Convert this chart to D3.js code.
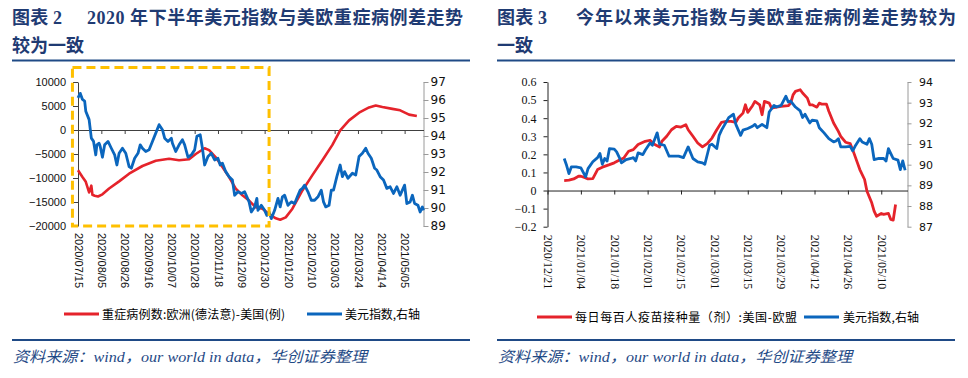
<!DOCTYPE html>
<html><head><meta charset="utf-8">
<script src="https://cdn.jsdelivr.net/npm/d3@7"></script>
<style>body{margin:0;background:#fff}svg{display:block}</style>
</head><body>
<svg id="c" width="968" height="378"></svg>
<script>
// ---------- Chart 1 data ----------
const ticks1 = ['2020/07/15','2020/08/05','2020/08/26','2020/09/16','2020/10/07','2020/10/28','2020/11/18','2020/12/09','2020/12/30','2021/01/20','2021/02/10','2021/03/03','2021/03/24','2021/04/14','2021/05/05'];
const leftTicks1 = [-20000,-15000,-10000,-5000,0,5000,10000];
const rightTicks1 = [89,90,91,92,93,94,95,96,97];
const severeDates = ['2020-07-15','2020-07-19','2020-07-22','2020-07-25','2020-07-27','2020-07-28','2020-07-30','2020-08-02','2020-08-06','2020-08-12','2020-08-21','2020-08-30','2020-09-11','2020-09-23','2020-10-05','2020-10-14','2020-10-23','2020-10-29','2020-11-06','2020-11-10','2020-11-16','2020-11-22','2020-11-28','2020-12-04','2020-12-10','2020-12-16','2020-12-22','2020-12-28','2021-01-03','2021-01-09','2021-01-13','2021-01-18','2021-01-24','2021-02-02','2021-02-11','2021-02-20','2021-03-01','2021-03-08','2021-03-16','2021-03-25','2021-04-03','2021-04-09','2021-04-15','2021-04-24','2021-05-01','2021-05-09','2021-05-16'];
const severeDiff = [-8400,-9800,-10800,-13000,-11600,-13500,-13700,-13850,-13400,-12200,-10700,-9100,-7500,-6400,-6000,-6300,-6100,-5000,-3800,-4200,-5700,-7700,-9800,-12200,-13600,-14700,-16100,-16400,-17500,-18400,-18700,-18200,-16400,-12600,-9400,-6300,-3100,-100,2000,3600,4700,5100,4800,4400,4100,3200,2900];
const dxyDates1 = ['2020-07-15','2020-07-17','2020-07-19','2020-07-21','2020-07-22','2020-07-25','2020-07-27','2020-07-29','2020-07-31','2020-08-01','2020-08-03','2020-08-04','2020-08-06','2020-08-08','2020-08-11','2020-08-14','2020-08-17','2020-08-19','2020-08-21','2020-08-24','2020-08-27','2020-08-30','2020-09-01','2020-09-04','2020-09-07','2020-09-09','2020-09-11','2020-09-14','2020-09-17','2020-09-20','2020-09-23','2020-09-26','2020-09-29','2020-10-01','2020-10-04','2020-10-07','2020-10-08','2020-10-11','2020-10-14','2020-10-17','2020-10-19','2020-10-22','2020-10-25','2020-10-28','2020-10-30','2020-11-02','2020-11-04','2020-11-06','2020-11-09','2020-11-12','2020-11-15','2020-11-18','2020-11-20','2020-11-22','2020-11-25','2020-11-28','2020-12-01','2020-12-03','2020-12-06','2020-12-09','2020-12-12','2020-12-14','2020-12-16','2020-12-18','2020-12-21','2020-12-23','2020-12-24','2020-12-27','2020-12-30','2021-01-01','2021-01-03','2021-01-05','2021-01-08','2021-01-11','2021-01-13','2021-01-15','2021-01-17','2021-01-20','2021-01-23','2021-01-26','2021-01-29','2021-01-31','2021-02-02','2021-02-04','2021-02-07','2021-02-10','2021-02-13','2021-02-16','2021-02-19','2021-02-21','2021-02-23','2021-02-26','2021-02-28','2021-03-02','2021-03-05','2021-03-08','2021-03-10','2021-03-12','2021-03-15','2021-03-19','2021-03-22','2021-03-25','2021-03-28','2021-03-31','2021-04-02','2021-04-05','2021-04-08','2021-04-10','2021-04-13','2021-04-16','2021-04-19','2021-04-22','2021-04-25','2021-04-28','2021-05-01','2021-05-03','2021-05-05','2021-05-07','2021-05-10','2021-05-12','2021-05-14','2021-05-17','2021-05-19','2021-05-21','2021-05-22'];
const dxyValues1 = [96.12,96.37,96.03,95.94,95.38,94.91,93.88,93.70,92.95,93.51,93.60,93.42,92.82,93.51,93.70,93.32,92.95,92.39,93.04,93.32,93.04,92.30,92.21,92.76,93.04,93.51,93.32,93.14,93.23,93.70,94.16,94.63,94.35,93.88,93.70,93.88,93.60,93.14,93.51,93.79,93.51,92.82,92.95,93.23,93.98,94.07,93.32,92.39,92.86,93.04,92.67,92.76,92.39,92.49,92.02,91.74,91.55,90.71,90.90,90.81,90.90,90.62,90.34,89.78,90.06,90.53,89.87,90.15,89.87,89.59,89.78,89.41,89.87,90.53,90.06,90.62,90.71,90.15,90.34,90.25,90.71,90.99,91.09,91.27,90.90,90.43,90.43,90.62,90.99,90.34,90.06,90.15,90.99,90.99,91.74,92.39,91.74,92.02,91.65,91.93,91.83,92.86,93.04,93.32,93.04,92.76,92.21,92.11,91.74,91.55,91.09,91.18,90.81,91.18,90.71,90.99,91.27,90.25,90.34,90.71,90.25,90.15,89.78,90.06,89.87];

// ---------- Chart 2 data ----------
const ticks2 = ['2020/12/21','2021/01/04','2021/01/18','2021/02/01','2021/02/15','2021/03/01','2021/03/15','2021/03/29','2021/04/12','2021/04/26','2021/05/10'];
const leftTicks2 = [-0.2,-0.1,0,0.1,0.2,0.3,0.4,0.5,0.6];
const rightTicks2 = [87,88,89,90,91,92,93,94];
const vaxDates = ['2020-12-28','2020-12-30','2021-01-01','2021-01-03','2021-01-04','2021-01-06','2021-01-07','2021-01-09','2021-01-11','2021-01-13','2021-01-16','2021-01-18','2021-01-20','2021-01-22','2021-01-24','2021-01-26','2021-01-28','2021-01-31','2021-02-02','2021-02-04','2021-02-06','2021-02-07','2021-02-09','2021-02-11','2021-02-13','2021-02-15','2021-02-17','2021-02-18','2021-02-20','2021-02-22','2021-02-24','2021-02-26','2021-02-28','2021-03-02','2021-03-04','2021-03-06','2021-03-08','2021-03-10','2021-03-11','2021-03-13','2021-03-14','2021-03-15','2021-03-17','2021-03-18','2021-03-20','2021-03-21','2021-03-22','2021-03-24','2021-03-25','2021-03-27','2021-03-29','2021-04-01','2021-04-02','2021-04-03','2021-04-04','2021-04-06','2021-04-07','2021-04-09','2021-04-10','2021-04-11','2021-04-13','2021-04-14','2021-04-15','2021-04-17','2021-04-18','2021-04-20','2021-04-22','2021-04-23','2021-04-25','2021-04-27','2021-04-28','2021-04-30','2021-05-01','2021-05-03','2021-05-04','2021-05-06','2021-05-07','2021-05-08','2021-05-10','2021-05-11','2021-05-13','2021-05-14','2021-05-15','2021-05-16'];
const vaxDiff = [0.055,0.057,0.064,0.079,0.079,0.070,0.064,0.066,0.116,0.129,0.143,0.153,0.167,0.180,0.217,0.226,0.254,0.272,0.278,0.254,0.241,0.272,0.300,0.336,0.355,0.351,0.364,0.336,0.300,0.263,0.241,0.259,0.290,0.336,0.377,0.382,0.382,0.377,0.401,0.428,0.474,0.432,0.469,0.493,0.474,0.419,0.493,0.483,0.456,0.461,0.465,0.469,0.483,0.529,0.548,0.557,0.539,0.511,0.474,0.474,0.461,0.483,0.478,0.478,0.438,0.373,0.327,0.300,0.267,0.259,0.226,0.153,0.116,0.061,-0.004,-0.068,-0.114,-0.142,-0.127,-0.132,-0.127,-0.160,-0.164,-0.077];
const dxyDates2 = ['2020-12-28','2020-12-29','2020-12-30','2020-12-31','2021-01-02','2021-01-04','2021-01-06','2021-01-07','2021-01-09','2021-01-11','2021-01-12','2021-01-13','2021-01-14','2021-01-15','2021-01-16','2021-01-18','2021-01-19','2021-01-20','2021-01-21','2021-01-23','2021-01-25','2021-01-26','2021-01-27','2021-01-28','2021-01-30','2021-01-31','2021-02-02','2021-02-03','2021-02-05','2021-02-06','2021-02-08','2021-02-10','2021-02-12','2021-02-14','2021-02-16','2021-02-18','2021-02-20','2021-02-22','2021-02-24','2021-02-25','2021-02-27','2021-02-28','2021-03-02','2021-03-03','2021-03-04','2021-03-06','2021-03-07','2021-03-09','2021-03-10','2021-03-12','2021-03-13','2021-03-15','2021-03-17','2021-03-18','2021-03-19','2021-03-21','2021-03-23','2021-03-24','2021-03-26','2021-03-27','2021-03-29','2021-03-31','2021-04-01','2021-04-02','2021-04-04','2021-04-06','2021-04-07','2021-04-08','2021-04-10','2021-04-11','2021-04-13','2021-04-14','2021-04-16','2021-04-18','2021-04-20','2021-04-21','2021-04-22','2021-04-23','2021-04-25','2021-04-27','2021-04-28','2021-04-29','2021-05-01','2021-05-02','2021-05-04','2021-05-05','2021-05-06','2021-05-07','2021-05-09','2021-05-11','2021-05-12','2021-05-13','2021-05-14','2021-05-15','2021-05-17','2021-05-18','2021-05-19','2021-05-20'];
const dxyValues2 = [90.30,89.97,89.57,89.89,89.89,89.85,89.41,89.81,90.14,90.34,90.54,90.02,90.30,90.18,90.78,90.75,90.62,90.38,90.09,90.25,90.30,90.34,90.18,90.57,90.49,90.70,91.05,90.94,91.54,90.99,90.94,90.41,90.41,90.41,90.34,90.86,90.30,90.14,90.09,90.02,90.94,90.99,90.78,91.42,91.67,92.07,92.28,92.44,91.95,91.42,91.67,91.75,91.86,91.95,91.79,91.95,91.79,92.55,92.87,92.79,92.87,93.31,93.03,93.08,92.79,92.60,92.28,92.44,92.02,92.15,92.12,91.79,91.54,91.26,91.10,91.15,91.26,90.86,90.86,90.89,90.67,90.89,91.26,91.10,90.99,91.26,90.99,90.25,90.30,90.30,90.18,90.78,90.54,90.30,90.22,89.76,90.18,89.73];

// ---------- Text ----------
const title1a = '图表 2', title1b = '2020 年下半年美元指数与美欧重症病例差走势', title1c = '较为一致';
const title2a = '图表 3', title2b = '今年以来美元指数与美欧重症病例差走势较为', title2c = '一致';
const legend1 = ['重症病例数:欧洲(德法意)-美国(例)', '美元指数,右轴'];
const legend2 = ['每日每百人疫苗接种量（剂）:美国-欧盟', '美元指数,右轴'];
const sourceText = '资料来源：wind，our world in data，华创证券整理';
const box1 = {start:'2020-07-10', end:'2021-01-03', top:13000, bottom:-20000};

// ---------- Drawing ----------
const RED = '#E5232B', BLUE = '#0B66BD', NAVY = '#1F3B73', LINE_NAVY = '#1F4A86';
const parse = d3.timeParse('%Y-%m-%d');
const parseTick = d3.timeParse('%Y/%m/%d');
const zip = (ds, vs) => ds.map((d,i) => ({date: parse(d), value: vs[i]}));
const svg = d3.select('#c');

function header(x0, a, b, bx, bLen, c, dividerEnd) {
  const t = svg.append('text').attr('y', 24).attr('fill', NAVY)
    .style('font-family', '"Liberation Serif","Noto Sans CJK SC",serif').style('font-weight', 'bold').style('font-size', '18px');
  t.append('tspan').attr('x', x0).attr('textLength', 50).attr('lengthAdjust', 'spacing').text(a);
  t.append('tspan').attr('x', bx).attr('textLength', bLen).attr('lengthAdjust', 'spacing').text(b);
  svg.append('text').attr('x', x0).attr('y', 52).attr('fill', NAVY)
    .style('font-family', '"Liberation Serif","Noto Sans CJK SC",serif').style('font-weight', 'bold').style('font-size', '18px').text(c);
  svg.append('line').attr('x1', x0).attr('x2', dividerEnd).attr('y1', 60.5).attr('y2', 60.5).attr('stroke', LINE_NAVY).attr('stroke-width', 2);
  svg.append('line').attr('x1', x0).attr('x2', dividerEnd).attr('y1', 340).attr('y2', 340).attr('stroke', LINE_NAVY).attr('stroke-width', 2);
  svg.append('text').attr('x', x0 + 1).attr('y', 362).attr('fill', LINE_NAVY)
    .attr('textLength', 354).attr('lengthAdjust', 'spacingAndGlyphs')
    .style('font-family', '"Liberation Serif","Noto Sans CJK SC",serif').style('font-style', 'italic').style('font-size', '15px').text(sourceText);
}
header(12, title1a, title1b, 87, 376, title1c, 470);
header(497, title2a, title2b, 576, 380, title2c, 955);

function styleAxis(g, color, font, size) {
  g.select('.domain').attr('stroke', color).attr('stroke-width', 1);
  g.selectAll('.tick line').attr('stroke', color);
  g.selectAll('.tick text').attr('fill', '#111').style('font-family', font).style('font-size', size);
}

function legend(items, y, x1s, tx, lens) {
  const cols = [RED, BLUE];
  items.forEach((txt, i) => {
    svg.append('line').attr('x1', x1s[i]).attr('x2', x1s[i] + 35).attr('y1', y).attr('y2', y)
      .attr('stroke', cols[i]).attr('stroke-width', 3);
    svg.append('text').attr('x', tx[i]).attr('y', y + 4.5).attr('fill', '#000')
      .attr('textLength', lens[i]).attr('lengthAdjust', 'spacing')
      .style('font-family', '"Noto Sans CJK SC",sans-serif').style('font-size', '12px').text(txt);
  });
}

// ===== Chart 1 =====
(function(){
  const L = 78, R = 423.5, T = 82, B = 226;
  const x = d3.scaleTime().domain([parse('2020-07-15'), parse('2021-05-22')]).range([L, R]);
  const yL = d3.scaleLinear().domain([-20000, 10000]).range([B, T]);
  const yR = d3.scaleLinear().domain([89, 97]).range([B, T]);
  const tickDates = ticks1.map(parseTick);

  const gl = svg.append('g').attr('transform', `translate(${L},0)`)
    .call(d3.axisLeft(yL).tickValues(leftTicks1).tickSize(5).tickSizeOuter(0).tickPadding(7).tickFormat(d3.format('d')));
  styleAxis(gl, '#404040', '"Liberation Sans",sans-serif', '11px');
  const gr = svg.append('g').attr('transform', `translate(${R},0)`)
    .call(d3.axisRight(yR).tickValues(rightTicks1).tickSize(5).tickSizeOuter(0).tickPadding(2).tickFormat(d3.format('d')));
  styleAxis(gr, '#9a9a9a', '"DejaVu Sans",sans-serif', '12px');
  const gz = svg.append('g').attr('transform', `translate(0,${yL(0)})`)
    .call(d3.axisBottom(x).tickValues(tickDates).tickSize(4).tickSizeOuter(0).tickFormat(''));
  styleAxis(gz, '#404040', 'sans-serif', '1px');
  const gx = svg.append('g').attr('transform', `translate(0,${B})`)
    .call(d3.axisBottom(x).tickValues(tickDates).tickSize(0).tickFormat(d3.timeFormat('%Y/%m/%d')));
  gx.select('.domain').remove();
  gx.selectAll('.tick text').attr('transform', 'rotate(90)').attr('x', 7).attr('y', 0).attr('dy', '0.35em')
    .style('text-anchor', 'start').attr('fill', '#111').style('font-family', '"Liberation Sans",sans-serif').style('font-size', '11px');

  const red = zip(severeDates, severeDiff), blue = zip(dxyDates1, dxyValues1);
  svg.append('path').datum(red).attr('fill', 'none').attr('stroke', RED).attr('stroke-width', 2.6).attr('stroke-linejoin', 'round')
    .attr('d', d3.line().x(d => x(d.date)).y(d => yL(d.value)));
  svg.append('path').datum(blue).attr('fill', 'none').attr('stroke', BLUE).attr('stroke-width', 2.8).attr('stroke-linejoin', 'round')
    .attr('d', d3.line().x(d => x(d.date)).y(d => yR(d.value)));

  const bx0 = x(parse(box1.start)), bx1 = x(parse(box1.end));
  svg.append('rect').attr('x', bx0).attr('y', yL(box1.top)).attr('width', bx1 - bx0).attr('height', yL(box1.bottom) - yL(box1.top))
    .attr('fill', 'none').attr('stroke', '#FFC000').attr('stroke-width', 3).attr('stroke-dasharray', '9,5');

  legend(legend1, 314, [64, 307], [102, 345], [183, 75]);
})();

// ===== Chart 2 =====
(function(){
  const L = 547.5, R = 907.5, T = 82, B = 226.7;
  const x = d3.scaleTime().domain([parse('2020-12-21'), parse('2021-05-21')]).range([L, R]);
  const yL = d3.scaleLinear().domain([-0.2, 0.6]).range([B, T]);
  const yR = d3.scaleLinear().domain([87, 94]).range([B, T]);
  const tickDates = ticks2.map(parseTick);

  const gl = svg.append('g').attr('transform', `translate(${L},0)`)
    .call(d3.axisLeft(yL).tickValues(leftTicks2).tickSize(4).tickSizeOuter(0).tickPadding(7).tickFormat(d => Math.abs(d) < 1e-9 ? '0' : d3.format('.1f')(d)));
  styleAxis(gl, '#222', '"Liberation Serif",serif', '12px');
  const gr = svg.append('g').attr('transform', `translate(${R},0)`)
    .call(d3.axisRight(yR).tickValues(rightTicks2).tickSize(4).tickSizeOuter(0).tickPadding(7.5).tickFormat(d3.format('d')));
  styleAxis(gr, '#9a9a9a', '"DejaVu Sans",sans-serif', '11px');
  const gz = svg.append('g').attr('transform', `translate(0,${yL(0)})`)
    .call(d3.axisBottom(x).tickValues(tickDates).tickSize(4).tickSizeOuter(0).tickFormat(''));
  styleAxis(gz, '#222', 'sans-serif', '1px');
  const gx = svg.append('g').attr('transform', `translate(0,${B})`)
    .call(d3.axisBottom(x).tickValues(tickDates).tickSize(0).tickFormat(d3.timeFormat('%Y/%m/%d')));
  gx.select('.domain').remove();
  gx.selectAll('.tick text').attr('transform', 'rotate(90)').attr('x', 8).attr('y', 0).attr('dy', '0.35em')
    .style('text-anchor', 'start').attr('fill', '#111').style('font-family', '"Liberation Serif",serif').style('font-size', '12px');

  const red = zip(vaxDates, vaxDiff), blue = zip(dxyDates2, dxyValues2);
  svg.append('path').datum(red).attr('fill', 'none').attr('stroke', RED).attr('stroke-width', 2.8).attr('stroke-linejoin', 'round')
    .attr('d', d3.line().x(d => x(d.date)).y(d => yL(d.value)));
  svg.append('path').datum(blue).attr('fill', 'none').attr('stroke', BLUE).attr('stroke-width', 2.8).attr('stroke-linejoin', 'round')
    .attr('d', d3.line().x(d => x(d.date)).y(d => yR(d.value)));

  legend(legend2, 317, [537, 804], [575, 843], [222, 76]);
})();
</script>
</body></html>
